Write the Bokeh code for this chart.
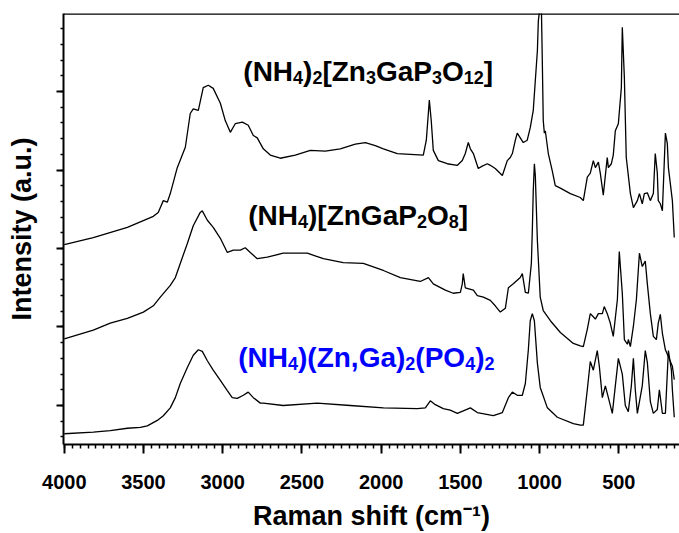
from bokeh.plotting import figure
from bokeh.models import Range1d, SingleIntervalTicker, Label, Span, CustomJSTickFormatter, Div
from bokeh.layouts import column
from bokeh.embed import file_html
from bokeh.resources import INLINE

# ---------------- data (Raman shift in cm^-1, intensity in a.u.) ----------------
top_shift = [4000, 3817, 3602, 3438, 3407, 3375, 3350, 3331, 3287, 3236, 3205, 3186, 3154, 3123, 3091, 3060, 3015, 2984, 2952, 2921, 2876, 2839, 2807, 2782, 2763, 2744, 2700, 2637, 2542, 2447, 2353, 2258, 2163, 2100, 2037, 1986, 1898, 1816, 1734, 1715, 1696, 1684, 1671, 1639, 1583, 1519, 1488, 1469, 1450, 1437, 1418, 1387, 1362, 1330, 1311, 1280, 1235, 1204, 1185, 1172, 1153, 1141, 1122, 1103, 1078, 1059, 1040, 1027, 1014, 1008, 996, 989, 983, 977, 970, 964, 945, 920, 901, 869, 806, 743, 724, 699, 680, 661, 648, 629, 617, 598, 573, 566, 547, 535, 522, 503, 484, 478, 465, 453, 427, 408, 383, 370, 352, 339, 320, 301, 282, 270, 257, 251, 238, 225, 206, 194, 187, 162, 150]
top_int = [2050, 2140, 2270, 2410, 2460, 2610, 2590, 2700, 3030, 3290, 3720, 3780, 3760, 4050, 4080, 4040, 3850, 3630, 3480, 3590, 3610, 3570, 3440, 3410, 3340, 3270, 3190, 3150, 3190, 3250, 3240, 3270, 3330, 3350, 3310, 3270, 3210, 3200, 3190, 3380, 3890, 3630, 3250, 3120, 3080, 3060, 3120, 3210, 3350, 3270, 3210, 3020, 3050, 3080, 3060, 3020, 2930, 3120, 3160, 3210, 3380, 3470, 3410, 3350, 3380, 3540, 3760, 4140, 4520, 4900, 5100, 5100, 4400, 3630, 3470, 3500, 3210, 2990, 2800, 2770, 2700, 2650, 2610, 2910, 2960, 3120, 3030, 3100, 2960, 2680, 3160, 3030, 3080, 3190, 3500, 3590, 4050, 4820, 4180, 3160, 2700, 2520, 2610, 2700, 2570, 2700, 2710, 2610, 2700, 3210, 2960, 2610, 2570, 2480, 3470, 3340, 3030, 2610, 2140]

mid_shift = [4000, 3817, 3710, 3602, 3501, 3438, 3394, 3331, 3299, 3268, 3224, 3186, 3142, 3129, 3097, 3060, 3015, 2971, 2933, 2889, 2858, 2826, 2782, 2719, 2618, 2466, 2365, 2239, 2113, 1986, 1879, 1753, 1702, 1671, 1595, 1545, 1500, 1488, 1482, 1469, 1418, 1393, 1355, 1311, 1280, 1248, 1216, 1197, 1166, 1122, 1109, 1090, 1071, 1052, 1046, 1040, 1033, 1027, 1014, 996, 977, 932, 869, 787, 743, 724, 699, 680, 661, 648, 629, 604, 592, 573, 554, 535, 509, 497, 478, 465, 446, 440, 427, 408, 389, 370, 352, 333, 320, 301, 282, 263, 251, 238, 225, 206, 187, 162, 150]
mid_int = [850, 960, 1050, 1110, 1190, 1270, 1380, 1530, 1630, 1810, 2060, 2290, 2460, 2480, 2360, 2270, 2130, 1950, 1980, 1980, 2010, 1950, 1870, 1890, 1940, 1940, 1870, 1820, 1810, 1720, 1630, 1580, 1630, 1550, 1470, 1430, 1440, 1550, 1680, 1500, 1470, 1400, 1380, 1340, 1270, 1190, 1240, 1500, 1550, 1630, 1680, 1440, 1430, 1810, 2230, 2740, 3080, 2930, 2100, 1380, 1210, 1080, 930, 790, 760, 750, 970, 1170, 1130, 1100, 1170, 1170, 1260, 1170, 1050, 880, 1350, 1960, 1430, 840, 780, 840, 750, 1010, 1350, 1940, 1770, 1840, 1550, 1170, 880, 840, 1050, 1160, 920, 710, 620, 500, 330]

bot_shift = [4000, 3817, 3710, 3602, 3520, 3476, 3413, 3375, 3331, 3299, 3268, 3224, 3186, 3154, 3129, 3097, 3060, 3015, 2971, 2940, 2908, 2870, 2839, 2807, 2763, 2744, 2618, 2403, 2195, 1986, 1772, 1721, 1690, 1658, 1608, 1564, 1519, 1437, 1393, 1292, 1235, 1197, 1172, 1141, 1109, 1090, 1071, 1059, 1046, 1033, 1014, 996, 951, 888, 787, 743, 724, 699, 680, 661, 636, 623, 604, 585, 566, 541, 522, 503, 478, 459, 440, 421, 408, 396, 383, 352, 333, 320, 301, 282, 257, 244, 225, 206, 187, 168, 162, 150]
bot_int = [-360, -340, -320, -290, -280, -260, -190, -130, -30, 100, 280, 480, 640, 710, 690, 570, 450, 320, 190, 100, 90, 130, 170, 100, 30, 30, 0, 30, 0, -30, -40, -30, 60, 10, -40, -60, -100, -30, -90, -130, -90, 100, 170, 130, 130, 280, 710, 1080, 1170, 1080, 540, 230, -30, -150, -230, -250, -250, 200, 560, 450, 700, 500, 100, 250, 100, -100, 250, 600, 400, 0, -80, 250, 600, 200, -100, 250, 700, 550, 50, -100, -50, 200, -100, -100, 700, 450, 200, -150]

x_ticks_step = 500
y_ticks_step = 1000

label_top = [("(NH", 0), ("4", 1), (")", 0), ("2", 1), ("[Zn", 0), ("3", 1), ("GaP", 0), ("3", 1), ("O", 0), ("12", 1), ("]", 0)]
label_mid = [("(NH", 0), ("4", 1), (")[ZnGaP", 0), ("2", 1), ("O", 0), ("8", 1), ("]", 0)]
label_bot = [("(NH", 0), ("4", 1), (")(Zn,Ga)", 0), ("2", 1), ("(PO", 0), ("4", 1), (")", 0), ("2", 1)]
x_title = "Raman shift (cm\u207b\u00b9)"
y_title = "Intensity (a.u.)"
caption = "Figure 1"

# ---------------- style ----------------
FONT = "Liberation Sans, Arial, sans-serif"
WID = {'(': 333, ')': 333, '[': 333, ']': 333, 'N': 722, 'H': 722, 'Z': 611, 'n': 611,
       'G': 778, 'a': 556, 'P': 667, 'O': 778, ',': 278, ' ': 278}
for d in "0123456789":
    WID[d] = 556


def text_width(s, size):
    return sum(WID.get(c, 556) for c in s) * size / 1000.0


p = figure(width=679, height=533, output_backend="svg", toolbar_location=None,
           x_range=Range1d(4005, 117), y_range=Range1d(-497, 4994),
           min_border_left=63, min_border_right=0, min_border_top=13, min_border_bottom=89)
p.outline_line_color = None
p.xgrid.visible = False
p.ygrid.visible = False
p.background_fill_color = "white"
p.border_fill_color = "white"

p.xaxis.ticker = SingleIntervalTicker(interval=x_ticks_step, num_minor_ticks=10)
p.yaxis.ticker = SingleIntervalTicker(interval=y_ticks_step, num_minor_ticks=5)

for ax in (p.xaxis[0], p.yaxis[0]):
    ax.axis_line_width = 2
    ax.axis_line_color = "black"
    ax.major_tick_line_width = 2
    ax.minor_tick_line_width = 1.5
    ax.major_tick_in = 0
    ax.minor_tick_in = 0
    ax.axis_label_text_font = FONT
    ax.axis_label_text_font_style = "bold"
    ax.axis_label_text_font_size = "27px"
    ax.axis_label_text_color = "black"

p.xaxis.major_tick_out = 9
p.xaxis.minor_tick_out = 4
p.xaxis.major_label_text_font = FONT
p.xaxis.major_label_text_font_style = "bold"
p.xaxis.major_label_text_font_size = "20px"
p.xaxis.major_label_text_color = "black"
p.xaxis.major_label_standoff = 21
p.xaxis.axis_label = x_title
p.xaxis.axis_label_standoff = 9
p.xaxis.axis_label_text_line_height = 1.0

p.yaxis.major_tick_out = 7
p.yaxis.minor_tick_out = 3
p.yaxis.formatter = CustomJSTickFormatter(code="return ''")
p.yaxis.major_label_standoff = 0
p.yaxis.axis_label = y_title
p.yaxis.axis_label_standoff = 20

# top border of the frame
p.add_layout(Span(location=p.y_range.end, dimension="width", line_color="black", line_width=2.5))

p.line(top_shift, top_int, line_color="black", line_width=1.3)
p.line(mid_shift, mid_int, line_color="black", line_width=1.3)
p.line(bot_shift, bot_int, line_color="black", line_width=1.3)


def formula(segs, x, y, color, size, sub_size, drop):
    off = 0.0
    for txt, kind in segs:
        fs = size if kind == 0 else sub_size
        dy = 0 if kind == 0 else -drop
        p.add_layout(Label(x=x, y=y, x_offset=off, y_offset=dy, text=txt,
                           text_font=FONT, text_font_size=f"{fs}px", text_font_style="bold",
                           text_color=color, text_baseline="alphabetic", text_align="left"))
        off += text_width(txt, fs)


formula(label_top, 2870, 4260, "black", 28, 18, 6)
formula(label_mid, 2839, 2420, "black", 28, 18, 6)
formula(label_bot, 2902, 610, "#0000ff", 28, 18, 6)

cap = Div(text=caption, width=80, height=7,
          styles={"position": "absolute", "left": "13px", "top": "526px", "overflow": "hidden",
                  "font-family": "Liberation Sans, Arial, sans-serif", "font-weight": "bold",
                  "font-size": "18px", "line-height": "18px", "color": "black"})

layout = column(p, cap)
open("out.html", "w").write(file_html(layout, INLINE))
